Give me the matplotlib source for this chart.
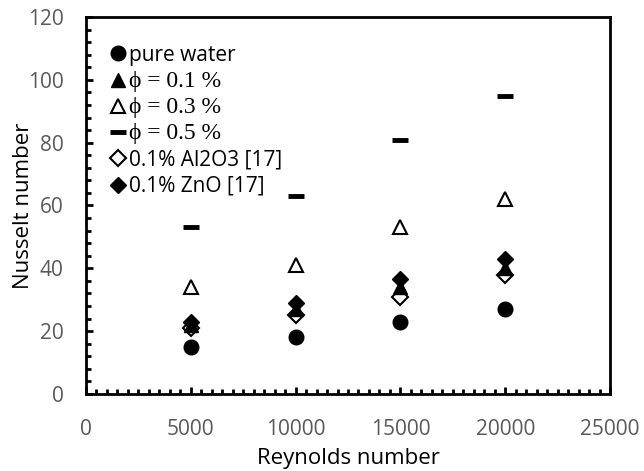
import numpy as np
import matplotlib.pyplot as plt
from matplotlib.ticker import MultipleLocator

# data
reynolds = [5000, 10000, 15000, 20000]
pure_water = [15, 18, 23, 27]
phi_01 = [22, 27, 34, 40]
phi_03 = [34, 41, 53, 62]
phi_05 = [53, 63, 81, 95]
al2o3 = [21, 25, 31, 38]
zno = [23, 29, 36.5, 43]

sans = "Open Sans"
serif = "Liberation Serif"
grey = "#595959"

fig = plt.figure(figsize=(6.44, 4.71), dpi=100)
ax = fig.add_axes([0.1335, 0.1635, 0.8137, 0.8004])

#order of drawing so the filled diamonds sit on top like in the picture
ax.plot(reynolds, pure_water, "o", color="black", ms=10.5, label="pure water")
ax.plot(reynolds, phi_03, "^", mfc="white", mec="black", mew=1.5, ms=10.5, label=r"ϕ = 0.3 %")
ax.plot(reynolds, phi_05, "_", color="black", ms=11, mew=3.5, label=r"ϕ = 0.5 %")
ax.plot(reynolds, al2o3, "D", mfc="white", mec="black", mew=1.5, ms=8, label="0.1% Al2O3 [17]")
ax.plot(reynolds, phi_01, "^", color="black", ms=10.5, label=r"ϕ = 0.1 %")
ax.plot(reynolds, zno, "D", color="black", ms=8, label="0.1% ZnO [17]")

ax.set_xlim(0, 25000)
ax.set_ylim(0, 120)
ax.xaxis.set_major_locator(MultipleLocator(5000))
ax.xaxis.set_minor_locator(MultipleLocator(500))
ax.yaxis.set_major_locator(MultipleLocator(20))
ax.yaxis.set_minor_locator(MultipleLocator(4))

for s in ax.spines.values():
    s.set_linewidth(2)
    s.set_color("black")
ax.tick_params(which="both", direction="in", color="black", pad=16,
               labelsize=15, labelcolor=grey, top=False, right=False)
ax.tick_params(axis="x", pad=18)
ax.tick_params(which="major", length=5, width=2)
ax.tick_params(which="minor", length=3.5, width=2)
for lab in ax.get_xticklabels() + ax.get_yticklabels():
    lab.set_fontfamily(sans)

ax.set_xlabel("Reynolds number", fontsize=16, family=sans, labelpad=6)
ax.set_ylabel("Nusselt number", fontsize=16, family=sans, labelpad=-4)

#legend order as in the reference
h, l = ax.get_legend_handles_labels()
order = [0, 4, 1, 2, 3, 5]
leg = ax.legend([h[i] for i in order], [l[i] for i in order], loc="upper left",
                bbox_to_anchor=(0.02, 0.965), frameon=False, handlelength=0.7,
                handletextpad=0.15, labelspacing=0.25, borderaxespad=0.3, fontsize=15)
for t in leg.get_texts():
    if "ϕ" in t.get_text():
        t.set_fontfamily(serif)
        t.set_fontsize(17)
    else:
        t.set_fontfamily(sans)

plt.savefig("out.png", dpi=100)
